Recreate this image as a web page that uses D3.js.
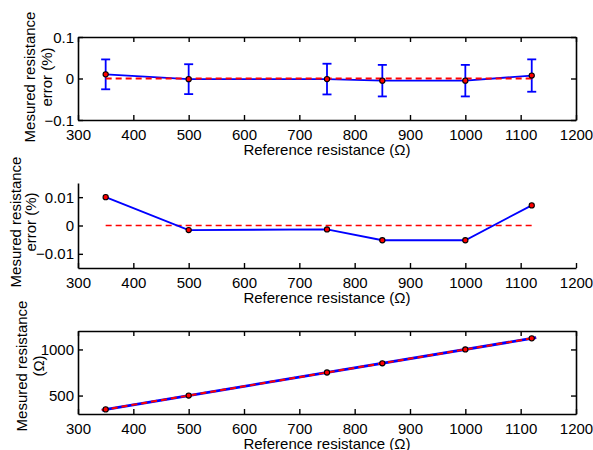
<!DOCTYPE html>
<html>
<head>
<meta charset="utf-8">
<script src="https://cdn.jsdelivr.net/npm/d3@7"></script>
<style>
  html, body { margin: 0; padding: 0; background: #fff; }
  svg { display: block; font-family: "Liberation Sans", Arial, Helvetica, sans-serif; }
</style>
</head>
<body>
<svg id="chart" width="593" height="450"></svg>
<script>
// ---------------- data ----------------
const refResistance = [350, 500, 750, 850, 1000, 1120];
const errorPct = [0.0100, -0.0016, -0.0014, -0.0052, -0.0052, 0.0071];
const errorBarPct = [0.036, 0.036, 0.037, 0.038, 0.038, 0.039];
const measuredResistance = [350.035, 499.992, 749.990, 849.956, 999.948, 1120.080];
const idealError = [0, 0, 0, 0, 0, 0];
const lineRange = [343, 1128];

const xDomain = [300, 1200];
const xTicks = [300, 400, 500, 600, 700, 800, 900, 1000, 1100, 1200];

const topYDomain = [-0.1, 0.1];
const topYTicks = [-0.1, 0, 0.1];
const topYTickLabels = ["\u22120.1", "0", "0.1"];

const midYDomain = [-0.015, 0.015];
const midYTicks = [-0.01, 0, 0.01];
const midYTickLabels = ["\u22120.01", "0", "0.01"];

const botYDomain = [300, 1200];
const botYTicks = [500, 1000];
const botYTickLabels = ["500", "1000"];

const xLabel = "Reference resistance (\u03A9)";
const topYLabel = ["Mesured resistance", "error (%)"];
const midYLabel = ["Mesured resistance", "error (%)"];
const botYLabel = ["Mesured resistance", "(\u03A9)"];

// ---------------- drawing ----------------
const svg = d3.select("#chart");
const FS = 15;
const BLUE = "#0000ff", RED = "#ff0000";

const x = d3.scaleLinear().domain(xDomain).range([78, 576]);

function panel(opts) {
  const y = d3.scaleLinear().domain(opts.yDomain).range([opts.bottom, opts.top]);
  const g = svg.append("g");

  const styleAxis = (sel) => {
    sel.select(".domain").attr("stroke", "#000").attr("stroke-width", 1.6);
    sel.selectAll(".tick line").attr("stroke", "#000").attr("stroke-width", 1.4);
    sel.selectAll("text").attr("fill", "#000").attr("font-size", FS)
      .attr("font-family", "Liberation Sans, Arial, sans-serif");
  };

  const xa = g.append("g").attr("transform", `translate(0,${opts.bottom})`)
    .call(d3.axisBottom(x).tickValues(xTicks).tickSizeInner(-5).tickSizeOuter(0).tickFormat(d3.format("d")));
  styleAxis(xa);
  xa.selectAll("text").attr("y", 20).attr("dy", null);

  const ya = g.append("g").attr("transform", `translate(78,0)`)
    .call(d3.axisLeft(y).tickValues(opts.yTicks).tickSizeInner(-5).tickSizeOuter(0)
      .tickFormat((d, i) => opts.yTickLabels[i]));
  styleAxis(ya);
  ya.selectAll("text").attr("x", -4).attr("dy", "0.34em");

  if (opts.box) {
    const ta = g.append("g").attr("transform", `translate(0,${opts.top})`)
      .call(d3.axisTop(x).tickValues(xTicks).tickSizeInner(-5).tickSizeOuter(0).tickFormat(""));
    styleAxis(ta);
    const ra = g.append("g").attr("transform", `translate(576,0)`)
      .call(d3.axisRight(y).tickValues(opts.yTicks).tickSizeInner(-5).tickSizeOuter(0).tickFormat(""));
    styleAxis(ra);
  }

  g.append("text").attr("x", 327).attr("y", opts.bottom + 35)
    .attr("text-anchor", "middle").attr("font-size", FS).attr("fill", "#000").text(xLabel);

  opts.yLabel.forEach((t, i) => {
    g.append("text")
      .attr("transform", `translate(${opts.labelX + i * opts.labelGap},${opts.labelY}) rotate(-90)`)
      .attr("text-anchor", "middle").attr("font-size", FS).attr("fill", "#000")
      .text(t);
  });

  return { g, y };
}

// ---- top panel ----
{
  const { g, y } = panel({ top: 37, bottom: 120, box: true, yDomain: topYDomain,
    yTicks: topYTicks, yTickLabels: topYTickLabels, yLabel: topYLabel,
    labelX: 35, labelY: 77, labelGap: 17 });
  const pts = refResistance.map((r, i) => ({ r, e: errorPct[i], eb: errorBarPct[i] }));
  g.append("path").datum(pts)
    .attr("d", d3.line().x(d => x(d.r)).y(d => y(d.e)))
    .attr("fill", "none").attr("stroke", BLUE).attr("stroke-width", 1.8);
  const eb = g.append("g").attr("stroke", BLUE).attr("stroke-width", 1.8);
  pts.forEach(d => {
    eb.append("line").attr("x1", x(d.r)).attr("x2", x(d.r))
      .attr("y1", y(d.e - d.eb)).attr("y2", y(d.e + d.eb));
    [d.e - d.eb, d.e + d.eb].forEach(v => {
      eb.append("line").attr("x1", x(d.r) - 4.5).attr("x2", x(d.r) + 4.5)
        .attr("y1", y(v)).attr("y2", y(v));
    });
  });
  g.append("path").datum(refResistance.map((r, i) => [r, idealError[i]]))
    .attr("d", d3.line().x(d => x(d[0])).y(d => y(d[1])))
    .attr("fill", "none").attr("stroke", RED).attr("stroke-width", 1.8)
    .attr("stroke-dasharray", "6,4");
  g.selectAll("circle.m").data(pts).join("circle")
    .attr("cx", d => x(d.r)).attr("cy", d => y(d.e)).attr("r", 2.6)
    .attr("fill", RED).attr("stroke", "#000").attr("stroke-width", 1.1);
}

// ---- middle panel ----
{
  const { g, y } = panel({ top: 183, bottom: 268, box: false, yDomain: midYDomain,
    yTicks: midYTicks, yTickLabels: midYTickLabels, yLabel: midYLabel,
    labelX: 21, labelY: 222, labelGap: 15 });
  const pts = refResistance.map((r, i) => ({ r, e: errorPct[i] }));
  g.append("path").datum(refResistance.map((r, i) => [r, idealError[i]]))
    .attr("d", d3.line().x(d => x(d[0])).y(d => y(d[1])))
    .attr("fill", "none").attr("stroke", RED).attr("stroke-width", 1.6)
    .attr("stroke-dasharray", "6,4");
  g.append("path").datum(pts)
    .attr("d", d3.line().x(d => x(d.r)).y(d => y(d.e)))
    .attr("fill", "none").attr("stroke", BLUE).attr("stroke-width", 1.8);
  g.selectAll("circle.m").data(pts).join("circle")
    .attr("cx", d => x(d.r)).attr("cy", d => y(d.e)).attr("r", 2.6)
    .attr("fill", RED).attr("stroke", "#000").attr("stroke-width", 1.1);
}

// ---- bottom panel ----
{
  const { g, y } = panel({ top: 331, bottom: 414, box: true, yDomain: botYDomain,
    yTicks: botYTicks, yTickLabels: botYTickLabels, yLabel: botYLabel,
    labelX: 27, labelY: 366, labelGap: 17 });
  const line = d3.line().x(d => x(d)).y(d => y(d));
  g.append("path").datum(lineRange).attr("d", line)
    .attr("fill", "none").attr("stroke", BLUE).attr("stroke-width", 2.8);
  g.append("path").datum(lineRange).attr("d", line)
    .attr("fill", "none").attr("stroke", RED).attr("stroke-width", 2)
    .attr("stroke-dasharray", "6,4");
  const pts = refResistance.map((r, i) => ({ r, m: measuredResistance[i] }));
  g.selectAll("circle.m").data(pts).join("circle")
    .attr("cx", d => x(d.r)).attr("cy", d => y(d.m)).attr("r", 2.6)
    .attr("fill", RED).attr("stroke", "#000").attr("stroke-width", 1.1);
}
</script>
</body>
</html>
